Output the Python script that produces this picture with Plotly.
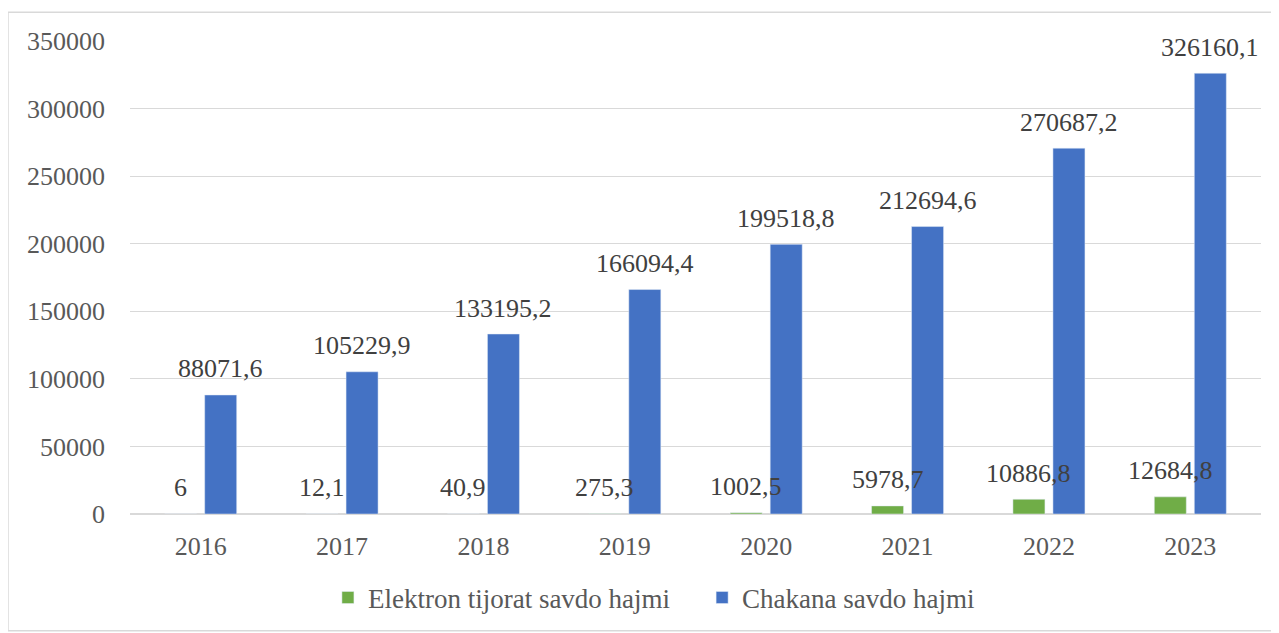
import plotly.graph_objects as go

years = ["2016", "2017", "2018", "2019", "2020", "2021", "2022", "2023"]
elektron = [6, 12.1, 40.9, 275.3, 1002.5, 5978.7, 10886.8, 12684.8]
chakana = [88071.6, 105229.9, 133195.2, 166094.4, 199518.8, 212694.6, 270687.2, 326160.1]
y_ticks = [0, 50000, 100000, 150000, 200000, 250000, 300000, 350000]

GREEN = "#70ad47"
BLUE = "#4472c4"
GRID = "#d9d9d9"
TICK_COLOR = "#595959"
LABEL_COLOR = "#404040"
FONT = '"Liberation Serif", "Times New Roman", serif'


def fmt(v):
    s = f"{v:.1f}".rstrip("0").rstrip(".")
    return s.replace(".", ",")


fig = go.Figure()
# trailing no-break spaces widen the gap between the two legend entries
fig.add_trace(go.Bar(name="Elektron tijorat savdo hajmi" + "\u00a0" * 4, x=years, y=elektron,
                     marker_color=GREEN, hoverinfo="x+y"))
fig.add_trace(go.Bar(name="Chakana savdo hajmi", x=years, y=chakana,
                     marker_color=BLUE, hoverinfo="x+y"))

# data labels as annotations so they sit above every bar
# (x given as category index, since the year strings look numeric)
annotations = []
for series, shift in ((elektron, -20), (chakana, 20)):
    for i, v in enumerate(series):
        annotations.append(dict(
            x=i, y=v, xref="x", yref="y", text=fmt(v), showarrow=False,
            xshift=shift, yshift=26, xanchor="center", yanchor="middle",
            font=dict(size=26, color=LABEL_COLOR, family=FONT),
        ))

fig.update_layout(
    width=1271, height=625,
    barmode="group", bargap=0.434, bargroupgap=0.2,
    paper_bgcolor="white", plot_bgcolor="white",
    margin=dict(l=122, r=18, t=33, b=118),
    font=dict(family=FONT, size=26, color=TICK_COLOR),
    showlegend=True,
    legend=dict(orientation="h", x=0.175, xanchor="left", y=-0.175, yanchor="middle",
                font=dict(size=27, color=TICK_COLOR), tracegroupgap=0),
    xaxis=dict(type="category", range=[-0.5, len(years) - 0.5], autorange=False,
               showgrid=False, showline=False, ticks="",
               ticklabelstandoff=14, tickfont=dict(size=26, color=TICK_COLOR)),
    yaxis=dict(range=[0, 350000], autorange=False, tickvals=y_ticks,
               ticktext=[str(t) for t in y_ticks],
               showgrid=True, gridcolor=GRID, gridwidth=1,
               zeroline=True, zerolinecolor=GRID, zerolinewidth=1.5,
               showline=False, ticks="", ticklabelstandoff=24,
               tickfont=dict(size=26, color=TICK_COLOR)),
    annotations=annotations,
    shapes=[dict(type="rect", xref="paper", yref="paper",
                 x0=-0.1079, x1=1.015, y0=-0.247, y1=1.061,
                 line=dict(color=GRID, width=1.5), layer="below")],
)

fig.write_html("out.html")
